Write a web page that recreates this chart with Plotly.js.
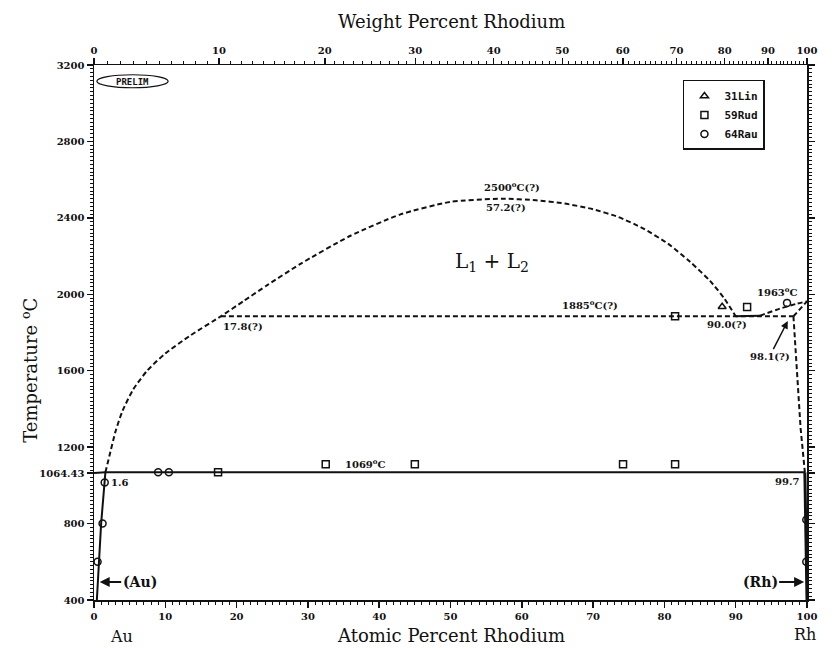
<!DOCTYPE html>
<html>
<head>
<meta charset="utf-8">
<script src="https://cdn.plot.ly/plotly-3.0.1.min.js"></script>
<style>
  html, body { margin: 0; padding: 0; background: #ffffff; }
  #chart { width: 837px; height: 648px; }
</style>
</head>
<body>
<div id="chart"></div>
<script>
// Au-Rh phase diagram: temperature (°C) versus atomic percent rhodium.

// Miscibility gap (L1 + L2) boundary, dashed
const gapAt   = [1.6, 2.2, 3.0, 4.0, 5.5, 7.5, 10.0, 13.5, 17.8, 21.0, 24.3, 28.9, 35.9, 42.9, 49.9, 57.2, 62.0, 66.0, 70.0, 73.5, 77.0, 80.5, 83.6, 86.4, 88.4, 90.0];
const gapT    = [1069, 1160, 1280, 1390, 1502, 1602, 1690, 1784, 1885, 1965, 2048, 2158, 2305, 2417, 2483, 2500, 2492, 2475, 2445, 2405, 2345, 2265, 2170, 2070, 1978, 1885];

// Monotectic horizontal at 1885 °C
const monoAt  = [17.8, 98.1];
const monoT   = [1885, 1885];

// Peritectic horizontal at 1069 °C, and Au liquidus foot
const periAt  = [0, 1.6, 99.7];
const periT   = [1064.43, 1069, 1069];

// (Au) solvus
const auSolvAt = [1.6, 1.3, 1.0, 0.7, 0.4];
const auSolvT  = [1069, 950, 800, 600, 400];

// (Rh) solvus: solid lower part, dashed upper part
const rhSolvAt = [99.7, 99.8, 99.9, 100];
const rhSolvT  = [1069, 800, 600, 400];
const rhSolvDashAt = [98.1, 98.6, 99.1, 99.7];
const rhSolvDashT  = [1885, 1600, 1300, 1069];

// Rh-rich liquidus and solidus
const liqSolidAt = [90.0, 93.4];
const liqSolidT  = [1885, 1888];
const liqDashAt  = [93.4, 96.2, 98.5, 100];
const liqDashT   = [1888, 1925, 1950, 1963];
const solDashAt  = [98.1, 99.0, 100];
const solDashT   = [1885, 1920, 1963];

// Experimental points
const linAt = [88.1];
const linT  = [1935];
const rudAt = [91.6, 81.5, 17.4, 32.5, 45.0, 74.2, 81.5];
const rudT  = [1934, 1885, 1069, 1110, 1110, 1110, 1110];
const rauAt = [97.2, 9.0, 10.5, 1.5, 1.2, 0.5, 99.9, 99.9];
const rauT  = [1955, 1069, 1069, 1015, 800, 600, 820, 600];

// Axis ticks
const tempTicks   = [400, 800, 1064.43, 1200, 1600, 2000, 2400, 2800, 3200];
const tempLabels  = ['400', '800', '1064.43', '1200', '1600', '2000', '2400', '2800', '3200'];
const wtTicks     = [0, 10, 20, 30, 40, 50, 60, 70, 80, 90, 100];

// Molar masses for the weight-percent scale
const M_AU = 196.967, M_RH = 102.906;
function wtToAt(w) {
  const rh = w / M_RH, au = (100 - w) / M_AU;
  return 100 * rh / (rh + au);
}
const wtMinor = [];
for (let w = 0; w <= 100; w += 1) wtMinor.push(wtToAt(w));

const black = '#111111';
const dashLine = {color: black, width: 2, dash: '5px,3px'};
const solidLine = {color: black, width: 2};

function line(x, y, ln) {
  return {x: x, y: y, mode: 'lines', line: ln, showlegend: false, hoverinfo: 'skip'};
}
function pts(x, y, sym, name) {
  return {x: x, y: y, mode: 'markers', name: name, hoverinfo: 'skip',
          marker: {symbol: sym, size: 7, color: black, line: {color: black, width: 1.5}}};
}

const traces = [
  line(gapAt, gapT, Object.assign({shape: 'spline', smoothing: 0.6}, dashLine)),
  line(monoAt, monoT, dashLine),
  line(periAt, periT, solidLine),
  line(auSolvAt, auSolvT, solidLine),
  line(rhSolvAt, rhSolvT, {color: black, width: 3}),
  line(rhSolvDashAt, rhSolvDashT, dashLine),
  line(liqSolidAt, liqSolidT, solidLine),
  line(liqDashAt, liqDashT, Object.assign({shape: 'spline', smoothing: 0.6}, dashLine)),
  line(solDashAt, solDashT, dashLine),
  pts(linAt, linT, 'triangle-up-open', '31Lin'),
  pts(rudAt, rudT, 'square-open', '59Rud'),
  pts(rauAt, rauT, 'circle-open', '64Rau'),
  // carrier for the weight-percent axis on top
  {x: wtTicks.map(wtToAt), y: wtTicks.map(() => 3200), xaxis: 'x2', mode: 'markers',
   marker: {opacity: 0}, showlegend: false, hoverinfo: 'skip'}
];

const tickFont = {family: 'DejaVu Serif', size: 10, color: black, weight: 'bold'};
const noteFont = {family: 'DejaVu Serif', size: 10, color: black, weight: 'bold'};
const titleFont = {family: 'DejaVu Serif', size: 18, color: black};

function note(text, x, y, extra) {
  return Object.assign({text: text, x: x, y: y, xref: 'x', yref: 'y',
                        showarrow: false, font: noteFont}, extra || {});
}

const annotations = [
  note('2500<sup>o</sup>C(?)', 58.6, 2562),
  note('57.2(?)', 57.8, 2452),
  note('1885<sup>o</sup>C(?)', 69.6, 1945),
  note('90.0(?)', 88.8, 1840),
  note('1963<sup>o</sup>C', 95.9, 2013),
  note('17.8(?)', 20.9, 1829),
  note('1069<sup>o</sup>C', 38.1, 1117),
  note('1.6', 3.6, 1013),
  note('99.7', 97.2, 1018),
  note('98.1(?)', 97.3, 1860, {showarrow: true, ax: -18, ay: 35, arrowhead: 2,
                               arrowsize: 1, arrowwidth: 1.5, arrowcolor: black}),
  note('L<sub>1</sub> + L<sub>2</sub>', 55.8, 2170,
       {font: {family: 'DejaVu Serif', size: 20, color: black}}),
  note('(Au)', 0.8, 494, {showarrow: true, ax: 40, ay: 0, arrowhead: 2, arrowsize: 1,
                          arrowwidth: 2, arrowcolor: black,
                          font: {family: 'DejaVu Serif', size: 14, color: black, weight: 'bold'}}),
  note('(Rh)', 99.6, 494, {showarrow: true, ax: -44, ay: 0, arrowhead: 2, arrowsize: 1,
                           arrowwidth: 2, arrowcolor: black,
                           font: {family: 'DejaVu Serif', size: 14, color: black, weight: 'bold'}}),
  note('PRELIM', 5.4, 3113, {font: {family: 'DejaVu Sans Mono', size: 9, color: black, weight: 'bold'}}),
  // axis titles and element labels
  {text: 'Weight Percent Rhodium', xref: 'paper', yref: 'paper', x: 0.501, y: 1.081,
   showarrow: false, font: titleFont, yanchor: 'middle'},
  {text: 'Atomic Percent Rhodium', xref: 'paper', yref: 'paper', x: 0.501, y: -0.066,
   showarrow: false, font: titleFont, yanchor: 'middle'},
  {text: 'Temperature <sup>o</sup>C', xref: 'paper', yref: 'paper', x: -0.09, y: 0.43,
   showarrow: false, font: titleFont, textangle: -90, xanchor: 'center', yanchor: 'middle'},
  {text: 'Au', xref: 'paper', yref: 'paper', x: 0.02, y: -0.068, showarrow: false,
   font: {family: 'DejaVu Serif', size: 16, color: black}, yanchor: 'middle'},
  {text: 'Rh', xref: 'paper', yref: 'paper', x: 1.016, y: -0.064, showarrow: false,
   font: {family: 'DejaVu Serif', size: 16, color: black}, yanchor: 'middle'}
];

const shapes = [
  {type: 'circle', xref: 'x', yref: 'y', x0: 0.4, x1: 10.4, y0: 3081, y1: 3149,
   line: {color: black, width: 1.2}}
];

const layout = {
  width: 837, height: 648,
  margin: {l: 94, r: 30, t: 65, b: 48, pad: 0},
  paper_bgcolor: '#ffffff', plot_bgcolor: '#ffffff',
  font: {family: 'DejaVu Serif', color: black},
  xaxis: {
    range: [0, 100], tick0: 0, dtick: 10, ticks: 'outside', ticklen: 6, tickwidth: 1.5,
    tickcolor: black, showline: true, linecolor: black, linewidth: 1.5,
    showgrid: false, zeroline: false, tickfont: tickFont,
    minor: {dtick: 1, ticks: 'outside', ticklen: 3, tickwidth: 1, tickcolor: black, showgrid: false}
  },
  xaxis2: {
    overlaying: 'x', side: 'top', anchor: 'y', range: [0, 100],
    tickmode: 'array', tickvals: wtTicks.map(wtToAt), ticktext: wtTicks.map(String),
    ticks: 'outside', ticklen: 6, tickwidth: 1.5, tickcolor: black,
    showline: true, linecolor: black, linewidth: 1.5, showgrid: false, zeroline: false,
    tickfont: tickFont,
    minor: {tickmode: 'array', tickvals: wtMinor, ticks: 'outside', ticklen: 3,
            tickwidth: 1, tickcolor: black, showgrid: false}
  },
  yaxis: {
    range: [400, 3200], tickmode: 'array', tickvals: tempTicks, ticktext: tempLabels,
    ticks: 'outside', ticklen: 6, tickwidth: 1.5, tickcolor: black,
    showline: true, linecolor: black, linewidth: 1.5, mirror: 'ticks',
    showgrid: false, zeroline: false, tickfont: tickFont,
    minor: {dtick: 20, tick0: 400, ticks: 'outside', ticklen: 3, tickwidth: 1,
            tickcolor: black, showgrid: false}
  },
  legend: {
    x: 0.826, y: 0.972, xanchor: 'left', yanchor: 'top',
    bgcolor: '#ffffff', bordercolor: black, borderwidth: 1.5,
    font: {family: 'DejaVu Sans Mono', size: 11, color: black, weight: 'bold'},
    itemwidth: 30, tracegroupgap: 0
  },
  showlegend: true,
  annotations: annotations,
  shapes: shapes
};

Plotly.newPlot('chart', traces, layout, {displayModeBar: false, staticPlot: true});
</script>
</body>
</html>
